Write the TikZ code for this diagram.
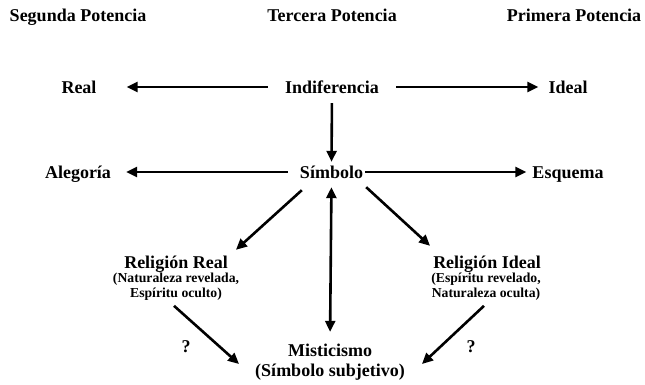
\documentclass[tikz,border=0pt]{standalone}
\usepackage{fontspec}
\setmainfont{Liberation Serif}
\usetikzlibrary{arrows.meta}
\begin{document}
\begin{tikzpicture}
[x=1pt,y=-1pt,
concept text/.style={font=\bfseries\fontsize{18}{20}\selectfont,text height=12pt,text depth=0pt,inner sep=2pt},
note text/.style={font=\bfseries\fontsize{13.7}{14.5}\selectfont,align=center,anchor=north,inner sep=2pt},
link arrow/.style={line width=2.6pt,-{Triangle[length=11pt,width=10pt]}},
double link arrow/.style={link arrow,{Triangle[length=11pt,width=10pt]}-{Triangle[length=11pt,width=10pt]}}]
\useasboundingbox (0,0) rectangle (645,384);
% headings
\node[concept text] (segunda) at (78,15) {Segunda Potencia};
\node[concept text] (tercera) at (332,15) {Tercera Potencia};
\node[concept text] (primera) at (574,15) {Primera Potencia};
% first row
\node[concept text] (real) at (79,87) {Real};
\node[concept text] (indif) at (332,87) {Indiferencia};
\node[concept text] (ideal) at (568,87) {Ideal};
% second row
\node[concept text] (alegoria) at (78,172) {Alegoría};
\node[concept text] (simbolo) at (331.5,172) {Símbolo};
\node[concept text] (esquema) at (568,172) {Esquema};
% religions
\node[concept text] (rreal) at (176,262) {Religión Real};
\node[note text] (rreal sub) at (176,271) {(Naturaleza revelada,\\Espíritu oculto)};
\node[concept text] (rideal) at (487,262) {Religión Ideal};
\node[note text] (rideal sub) at (486,271) {(Espíritu revelado,\\Naturaleza oculta)};
% mysticism
\node[concept text] (mist) at (330,350) {Misticismo};
\node[concept text] (mist sub) at (330,370) {(Símbolo subjetivo)};
\node[concept text] (q left) at (186,346) {?};
\node[concept text] (q right) at (471,346) {?};
% arrows
\draw[link arrow,shorten <=15pt,shorten >=28pt] (indif.west) -- (real.east);
\draw[link arrow,shorten <=15pt,shorten >=8pt] (indif.east) -- (ideal.west);
\draw[link arrow,shorten <=8pt,shorten >=2pt] (indif.south) -- (simbolo.north);
\draw[link arrow,shorten <=10pt,shorten >=13pt] (simbolo.west) -- (alegoria.east);
\draw[link arrow,shorten >=4pt] (simbolo.east) -- (esquema.west);
\draw[link arrow] ([shift={(4,10)}]simbolo.south west) -- ([shift={(6,-4)}]rreal.north east);
\draw[link arrow] ([shift={(1,7)}]simbolo.south east) -- ([shift={(-1,-8)}]rideal.north west);
\draw[double link arrow,shorten <=7pt,shorten >=10pt] (simbolo.south) -- (mist.north);
\draw[link arrow] ([shift={(-2,3.5)}]rreal sub.south) -- ([shift={(-14,-6)}]mist sub.west);
\draw[link arrow] ([shift={(-2,3.5)}]rideal sub.south) -- ([shift={(15,-6)}]mist sub.east);
\end{tikzpicture}
\end{document}
